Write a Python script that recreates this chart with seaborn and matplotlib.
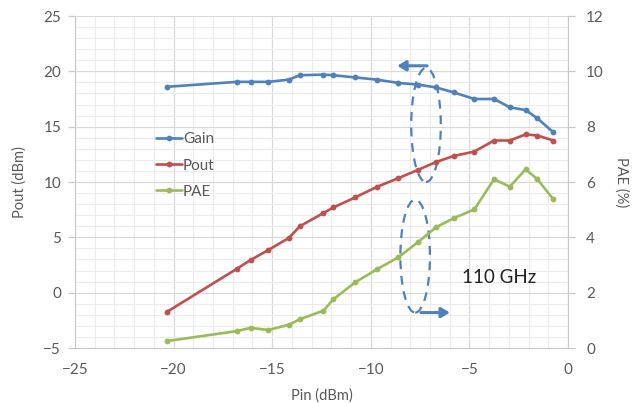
import matplotlib
matplotlib.use("Agg")
import matplotlib.pyplot as plt
import seaborn as sns
import pandas as pd
import numpy as np
from matplotlib.patches import Ellipse
from matplotlib.ticker import MultipleLocator

# ---- data ----
pin = [-20.35, -16.8, -16.1, -15.2, -14.15, -13.6, -12.4, -11.9, -10.8, -9.7,
       -8.6, -7.6, -6.7, -5.8, -4.75, -3.75, -2.95, -2.15, -1.55, -0.75]
gain = [18.6, 19.05, 19.05, 19.05, 19.25, 19.65, 19.7, 19.65, 19.45, 19.25,
        18.95, 18.8, 18.55, 18.1, 17.5, 17.5, 16.75, 16.5, 15.75, 14.5]
pout = [-1.75, 2.15, 2.95, 3.85, 4.95, 6.0, 7.2, 7.7, 8.6, 9.55,
        10.35, 11.1, 11.8, 12.35, 12.75, 13.75, 13.75, 14.3, 14.2, 13.75]
pae = [0.25, 0.61, 0.73, 0.65, 0.84, 1.04, 1.35, 1.76, 2.37, 2.84,
       3.28, 3.83, 4.36, 4.69, 5.01, 6.10, 5.83, 6.46, 6.10, 5.38]

x_ticks = [-25, -20, -15, -10, -5, 0]
left_ticks = [-5, 0, 5, 10, 15, 20, 25]
right_ticks = [0, 2, 4, 6, 8, 10, 12]

c_gain, c_pout, c_pae = "#4F81BD", "#C0504D", "#9BBB59"
txt_col = "#595959"

sns.set_style("white")
plt.rcParams["font.family"] = ["Lato", "DejaVu Sans"]

df = pd.DataFrame({"Pin": pin, "Gain": gain, "Pout": pout, "PAE": pae})

fig = plt.figure(figsize=(6.4, 4.03), dpi=100)
ax = fig.add_axes([75/640, 1-348/403, (568-75)/640, (348-16)/403])
ax2 = ax.twinx()

kw = dict(marker="o", markersize=4.2, linewidth=1.9, markeredgewidth=0, estimator=None)
sns.lineplot(data=df, x="Pin", y="Gain", ax=ax, color=c_gain, label="Gain", **kw)
sns.lineplot(data=df, x="Pin", y="Pout", ax=ax, color=c_pout, label="Pout", **kw)
sns.lineplot(data=df, x="Pin", y="PAE", ax=ax2, color=c_pae, label="PAE", **kw)

ax.set_xlim(-25, 0)
ax.set_ylim(-5, 25)
ax2.set_ylim(0, 12)
ax.set_xticks(x_ticks)
ax.set_yticks(left_ticks)
ax2.set_yticks(right_ticks)
ax.xaxis.set_minor_locator(MultipleLocator(1))
ax.yaxis.set_minor_locator(MultipleLocator(1))
ax.grid(True, which="major", color="#d9d9d9", linewidth=0.9)
ax.grid(True, which="minor", color="#ebebeb", linewidth=0.7)
ax.set_axisbelow(True)

for a in (ax, ax2):
    a.spines["top"].set_visible(False)
    a.tick_params(which="minor", length=0)
ax.spines["left"].set_color("#c8c8c8")
ax.spines["bottom"].set_color("#c8c8c8")
ax.spines["right"].set_visible(False)
ax2.spines["left"].set_visible(False)
ax2.spines["bottom"].set_visible(False)
ax2.spines["right"].set_color("#c8c8c8")

ax.tick_params(axis="both", which="major", direction="out", length=5, width=0.9,
               color="#c8c8c8", labelsize=11, labelcolor=txt_col, pad=5)
ax.tick_params(axis="x", pad=6)
ax2.tick_params(axis="y", which="major", direction="out", length=5, width=0.9,
                color="#c8c8c8", labelsize=11, labelcolor=txt_col, pad=8)

ax.set_xlabel("Pin (dBm)", fontsize=10.5, color=txt_col, labelpad=8)
ax.set_ylabel("Pout (dBm)", fontsize=10.5, color=txt_col, labelpad=12)
ax2.set_ylabel("PAE (%)", fontsize=10.5, color=txt_col, rotation=270, labelpad=18)

# combined legend
h1, l1 = ax.get_legend_handles_labels()
h2, l2 = ax2.get_legend_handles_labels()
if ax2.get_legend():
    ax2.get_legend().remove()
ax.legend(h1 + h2, l1 + l2, loc="upper left", bbox_to_anchor=(0.152, 0.668),
          frameon=False, fontsize=11, labelcolor=txt_col, handlelength=1.7,
          handletextpad=0.05, labelspacing=0.8, borderaxespad=0)

# annotations
ell_kw = dict(fill=False, edgecolor=c_gain, linestyle=(0, (4, 3)), linewidth=1.6)
ax.add_patch(Ellipse((-7.2, 15.15), 1.5, 10.3, **ell_kw))
ax.add_patch(Ellipse((-7.75, 3.3), 1.5, 10.2, **ell_kw))
arr_kw = dict(arrowstyle="-|>,head_length=0.5,head_width=0.3", color=c_gain, lw=2.2)
ax.annotate("", xy=(-8.8, 20.5), xytext=(-7.0, 20.5), arrowprops=arr_kw)
ax.annotate("", xy=(-5.85, -1.8), xytext=(-7.6, -1.8), arrowprops=arr_kw)
ax.text(-5.4, 1.4, "110 GHz", fontsize=13.5, color="#222222", va="center", ha="left")

fig.savefig("out.png", dpi=100)
